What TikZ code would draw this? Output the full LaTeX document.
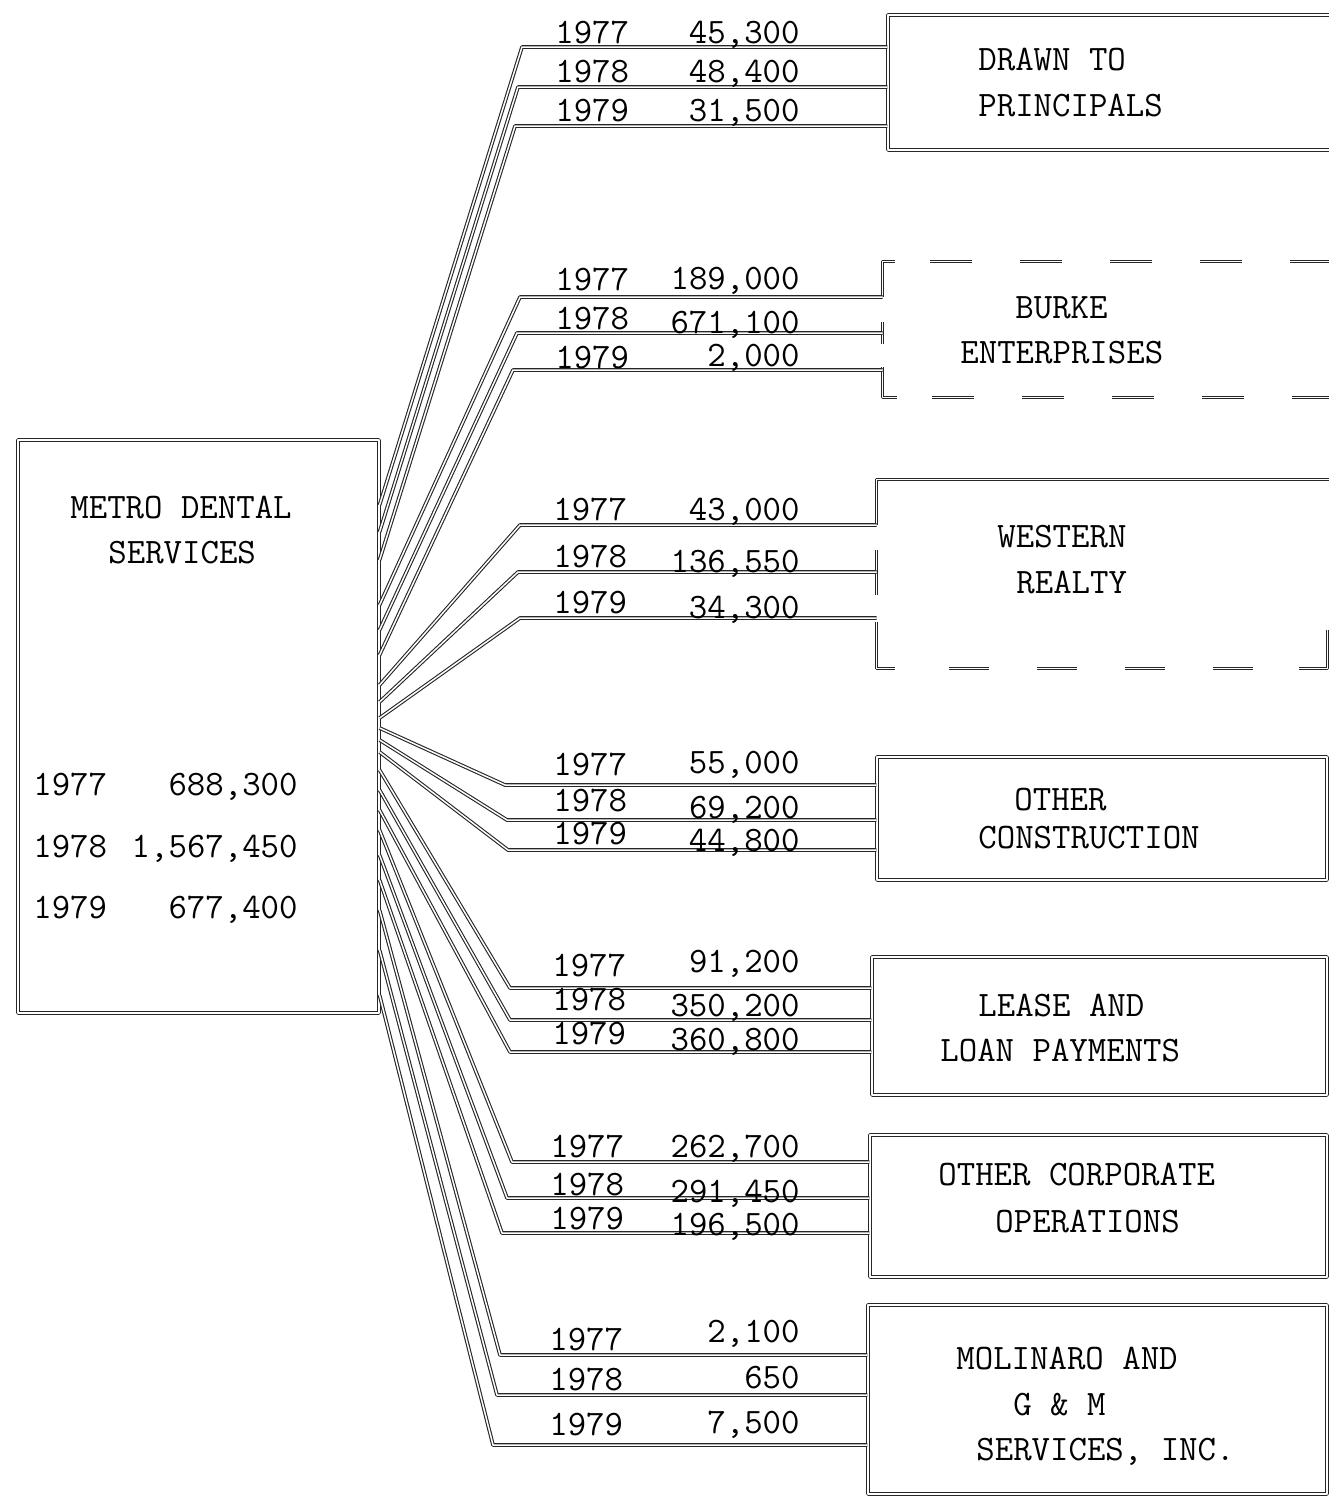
\documentclass[tikz,border=0pt]{standalone}
\usetikzlibrary{fit}

\begin{document}
\begin{tikzpicture}[x=0.5pt, y=-0.5pt,
    boxline/.style={draw=black!85, line width=0.55pt, double=white, double distance=0.75pt, line join=round},
    flow/.style={boxline},
    typed/.style={font=\ttfamily\fontsize{17.9}{20}\selectfont, inner sep=0pt},
    frame/.style={inner sep=0pt, fit={#1}}]
		\useasboundingbox (0,0) rectangle (1329,1496);
		\clip (0,0) rectangle (1329,1496);

		% boxes
		\node[frame={(18,440) (379,1013)}, boxline] (metro) {};
		\node[frame={(888,15) (1400,150)}, boxline] (drawn) {};
		\node[frame={(883,262) (1400,397)}] (burke) {};
		\node[frame={(877,480) (1327,668)}] (western) {};
		\node[frame={(877,757) (1327,880)}, boxline] (othcon) {};
		\node[frame={(872,957) (1327,1095)}, boxline] (lease) {};
		\node[frame={(870,1135) (1327,1277)}, boxline] (othcorp) {};
		\node[frame={(868,1305) (1327,1494)}, boxline] (molin) {};

		% open frames
		\draw[boxline] ([xshift=6pt]burke.north west) -- (burke.north west) -- (burke.west |- 0,297);
		\draw[boxline] (burke.west |- 0,322) -- (burke.west |- 0,344);
		\draw[boxline] (burke.west |- 0,367) -- (burke.south west) -- ([xshift=7pt]burke.south west);
		\draw[boxline, dash pattern=on 21pt off 24pt] ([xshift=23.5pt]burke.north west) -- (burke.north east);
		\draw[boxline, dash pattern=on 21pt off 24pt] ([xshift=24.5pt]burke.south west) -- (burke.south east);

		\draw[boxline] (western.west |- 0,525) -- (western.north west) -- ([xshift=10pt]western.north east);
		\draw[boxline] (western.west |- 0,550) -- (western.west |- 0,595);
		\draw[boxline] (western.west |- 0,622) -- (western.south west) -- ([xshift=9pt]western.south west);
		\draw[boxline, dash pattern=on 20pt off 24pt] ([xshift=36pt]western.south west) -- ([xshift=-16pt]western.south east);
		\draw[boxline] ([xshift=-14pt]western.south east) -- (western.south east) -- (western.east |- 0,630);

		% source box text
		\node[typed, anchor=base west] (metroA) at (70,518) {METRO DENTAL};
		\node[typed, anchor=base west] (metroB) at (108,563) {SERVICES};
		\node[typed, anchor=base west] (m1y) at (33,795) {1977};
		\node[typed, anchor=base east] (m1v) at (298,795) {688,300};
		\node[typed, anchor=base west] (m2y) at (33,857) {1978};
		\node[typed, anchor=base east] (m2v) at (298,857) {1,567,450};
		\node[typed, anchor=base west] (m3y) at (33,918) {1979};
		\node[typed, anchor=base east] (m3v) at (298,918) {677,400};

		% target box text
		\node[typed, anchor=base west] (drawnA) at (978,70) {DRAWN TO};
		\node[typed, anchor=base west] (drawnB) at (978,116) {PRINCIPALS};
		\node[typed, anchor=base west] (burkeA) at (1015,318) {BURKE};
		\node[typed, anchor=base west] (burkeB) at (960,363) {ENTERPRISES};
		\node[typed, anchor=base west] (westernA) at (997,547) {WESTERN};
		\node[typed, anchor=base west] (westernB) at (1016,593) {REALTY};
		\node[typed, anchor=base west] (othconA) at (1014,810) {OTHER};
		\node[typed, anchor=base west] (othconB) at (978,848) {CONSTRUCTION};
		\node[typed, anchor=base west] (leaseA) at (978,1016) {LEASE AND};
		\node[typed, anchor=base west] (leaseB) at (940,1061) {LOAN PAYMENTS};
		\node[typed, anchor=base west] (othcorpA) at (938,1185) {OTHER CORPORATE};
		\node[typed, anchor=base west] (othcorpB) at (995,1232) {OPERATIONS};
		\node[typed, anchor=base west] (molinA) at (956,1369) {MOLINARO AND};
		\node[typed, anchor=base west] (molinB) at (1013,1415) {G \& M};
		\node[typed, anchor=base west] (molinC) at (976,1460) {SERVICES, INC.};

		% drawn to principals
		\draw[flow] (metro.east |- 0,505) -- (522,47) -- (drawn.west |- 0,47);
		\draw[flow] (metro.east |- 0,532) -- (518,87) -- (drawn.west |- 0,87);
		\draw[flow] (metro.east |- 0,560) -- (515,126) -- (drawn.west |- 0,126);
		\node[typed, anchor=base west] (d1y) at (555,43) {1977};
		\node[typed, anchor=base east] (d1v) at (800,43) {45,300};
		\node[typed, anchor=base west] (d2y) at (555,82) {1978};
		\node[typed, anchor=base east] (d2v) at (800,82) {48,400};
		\node[typed, anchor=base west] (d3y) at (555,121) {1979};
		\node[typed, anchor=base east] (d3v) at (800,121) {31,500};

		% burke
		\draw[flow] (metro.east |- 0,605) -- (520,297) -- (burke.west |- 0,297);
		\draw[flow] (metro.east |- 0,630) -- (517,333) -- (burke.west |- 0,333);
		\draw[flow] (metro.east |- 0,655) -- (513,370) -- (burke.west |- 0,370);
		\node[typed, anchor=base west] (b1y) at (555,290) {1977};
		\node[typed, anchor=base east] (b1v) at (800,289) {189,000};
		\node[typed, anchor=base west] (b2y) at (555,329) {1978};
		\node[typed, anchor=base east] (b2v) at (800,333) {671,100};
		\node[typed, anchor=base west] (b3y) at (555,368) {1979};
		\node[typed, anchor=base east] (b3v) at (800,366) {2,000};

		% western
		\draw[flow] (metro.east |- 0,685) -- (520,525) -- (western.west |- 0,525);
		\draw[flow] (metro.east |- 0,702) -- (518,572) -- (western.west |- 0,572);
		\draw[flow] (metro.east |- 0,718) -- (520,618) -- (western.west |- 0,618);
		\node[typed, anchor=base west] (w1y) at (553,520) {1977};
		\node[typed, anchor=base east] (w1v) at (800,520) {43,000};
		\node[typed, anchor=base west] (w2y) at (553,567) {1978};
		\node[typed, anchor=base east] (w2v) at (800,572) {136,550};
		\node[typed, anchor=base west] (w3y) at (553,613) {1979};
		\node[typed, anchor=base east] (w3v) at (800,618) {34,300};

		% other construction
		\draw[flow] (metro.east |- 0,728) -- (505,785) -- (othcon.west |- 0,785);
		\draw[flow] (metro.east |- 0,740) -- (507,820) -- (othcon.west |- 0,820);
		\draw[flow] (metro.east |- 0,752) -- (508,850) -- (othcon.west |- 0,850);
		\node[typed, anchor=base west] (c1y) at (553,775) {1977};
		\node[typed, anchor=base east] (c1v) at (800,773) {55,000};
		\node[typed, anchor=base west] (c2y) at (553,811) {1978};
		\node[typed, anchor=base east] (c2v) at (800,818) {69,200};
		\node[typed, anchor=base west] (c3y) at (553,844) {1979};
		\node[typed, anchor=base east] (c3v) at (800,851) {44,800};

		% lease and loan
		\draw[flow] (metro.east |- 0,770) -- (510,988) -- (lease.west |- 0,988);
		\draw[flow] (metro.east |- 0,790) -- (510,1020) -- (lease.west |- 0,1020);
		\draw[flow] (metro.east |- 0,810) -- (510,1052) -- (lease.west |- 0,1052);
		\node[typed, anchor=base west] (l1y) at (552,976) {1977};
		\node[typed, anchor=base east] (l1v) at (800,972) {91,200};
		\node[typed, anchor=base west] (l2y) at (552,1010) {1978};
		\node[typed, anchor=base east] (l2v) at (800,1016) {350,200};
		\node[typed, anchor=base west] (l3y) at (552,1044) {1979};
		\node[typed, anchor=base east] (l3v) at (800,1050) {360,800};

		% other corporate
		\draw[flow] (metro.east |- 0,830) -- (512,1162) -- (othcorp.west |- 0,1162);
		\draw[flow] (metro.east |- 0,855) -- (507,1198) -- (othcorp.west |- 0,1198);
		\draw[flow] (metro.east |- 0,880) -- (502,1233) -- (othcorp.west |- 0,1233);
		\node[typed, anchor=base west] (o1y) at (550,1157) {1977};
		\node[typed, anchor=base east] (o1v) at (800,1157) {262,700};
		\node[typed, anchor=base west] (o2y) at (550,1195) {1978};
		\node[typed, anchor=base east] (o2v) at (800,1202) {291,450};
		\node[typed, anchor=base west] (o3y) at (550,1229) {1979};
		\node[typed, anchor=base east] (o3v) at (800,1235) {196,500};

		% molinaro
		\draw[flow] (metro.east |- 0,910) -- (500,1355) -- (molin.west |- 0,1355);
		\draw[flow] (metro.east |- 0,950) -- (497,1395) -- (molin.west |- 0,1395);
		\draw[flow] (metro.east |- 0,995) -- (493,1445) -- (molin.west |- 0,1445);
		\node[typed, anchor=base west] (g1y) at (549,1350) {1977};
		\node[typed, anchor=base east] (g1v) at (800,1342) {2,100};
		\node[typed, anchor=base west] (g2y) at (549,1390) {1978};
		\node[typed, anchor=base east] (g2v) at (800,1388) {650};
		\node[typed, anchor=base west] (g3y) at (549,1435) {1979};
		\node[typed, anchor=base east] (g3v) at (800,1433) {7,500};
    \end{tikzpicture}
\end{document}
